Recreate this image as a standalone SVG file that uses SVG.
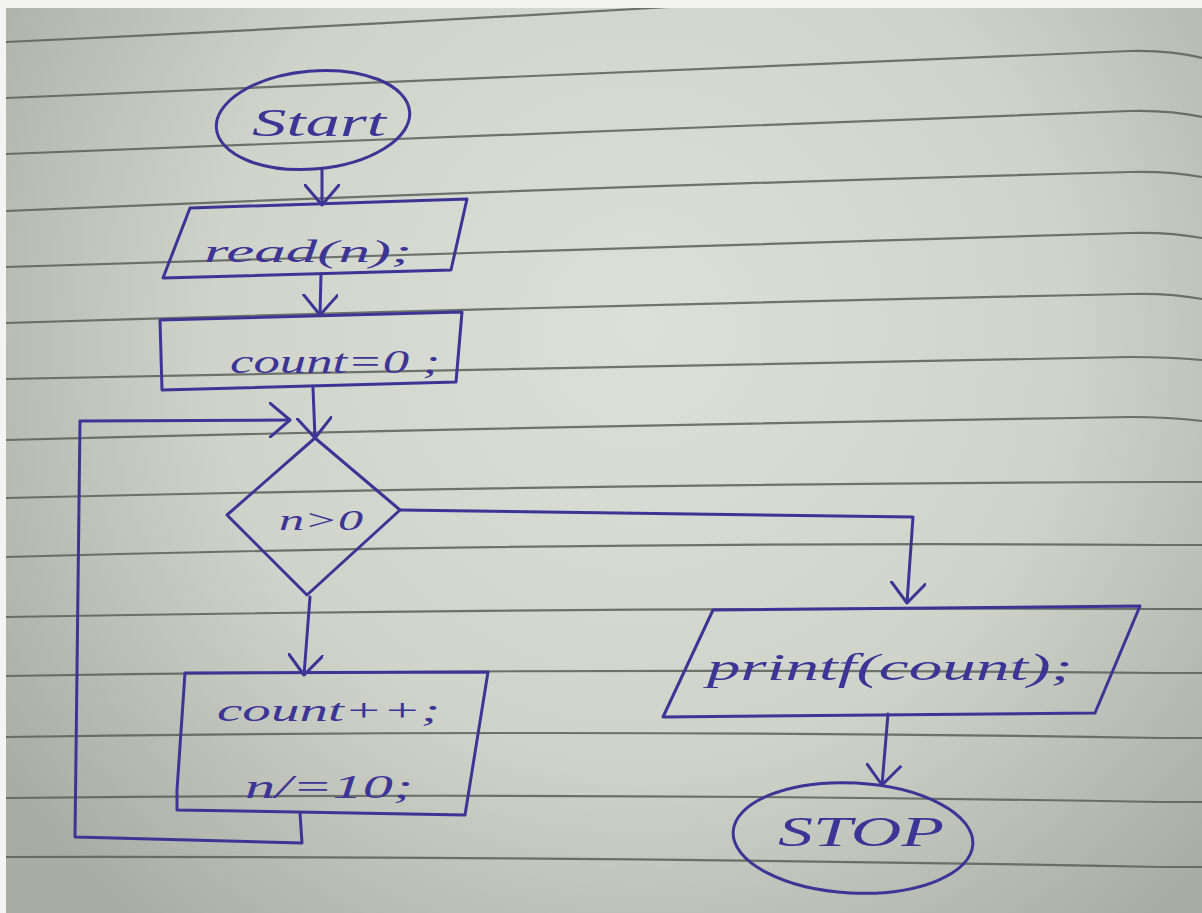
<svg xmlns="http://www.w3.org/2000/svg" width="1202" height="913" viewBox="0 0 1202 913">
  <defs>
    <radialGradient id="paperShade" cx="640" cy="330" r="780" gradientUnits="userSpaceOnUse">
      <stop offset="0" stop-color="#dde0d8"/>
      <stop offset="0.55" stop-color="#d0d3ca"/>
      <stop offset="1" stop-color="#a8aca4"/>
    </radialGradient>
    <clipPath id="pageClip">
      <rect x="6" y="8" width="1196" height="905"/>
    </clipPath>
    <marker id="arrowOpen" viewBox="0 0 22 36" refX="21" refY="18" markerWidth="22" markerHeight="36" markerUnits="userSpaceOnUse" orient="auto">
      <path d="M1,1 L21,18 L1,35" fill="none" stroke="#3d3596" stroke-width="3" stroke-linecap="round" stroke-linejoin="round"/>
    </marker>
    <style>
      .rule { fill: none; stroke: #5a6058; stroke-width: 2.2; stroke-opacity: 0.85; }
      .ink { fill: none; stroke: #3d3596; stroke-width: 3; stroke-linecap: round; stroke-linejoin: round; }
      .flow { fill: none; stroke: #3d3596; stroke-width: 3; stroke-linecap: round; stroke-linejoin: round; marker-end: url(#arrowOpen); }
      .label { fill: #3d3596; font-family: "Liberation Serif", "DejaVu Serif", serif; font-style: italic; }
    </style>
  </defs>

  <!-- notebook page -->
  <g id="page">
    <rect x="0" y="0" width="1202" height="913" fill="#f4f5f2"/>
    <rect x="6" y="8" width="1196" height="905" fill="url(#paperShade)"/>
    <g clip-path="url(#pageClip)">
      <path class="rule" d="M6,42 Q583,15.5 1160,-25"/>
      <path class="rule" d="M6,98 Q583,71.5 1130,51 Q1170,50 1202,58"/>
      <path class="rule" d="M6,154 Q583,129.5 1130,111 Q1170,110 1202,117"/>
      <path class="rule" d="M6,211 Q583,186.5 1130,172 Q1170,171 1202,177"/>
      <path class="rule" d="M6,267 Q583,248 1130,233 Q1170,232 1202,238"/>
      <path class="rule" d="M6,323 Q583,305.5 1130,294 Q1170,293 1202,299"/>
      <path class="rule" d="M6,379 Q583,366 1130,357 Q1170,357 1202,360"/>
      <path class="rule" d="M6,440 Q583,425.5 1130,417 Q1170,417 1202,421"/>
      <path class="rule" d="M6,498 Q583,484 1160,482 L1202,482"/>
      <path class="rule" d="M6,557 Q583,541 1160,545 L1202,545"/>
      <path class="rule" d="M6,617 Q583,607 1160,609 L1202,609"/>
      <path class="rule" d="M6,676 Q583,667.5 1160,673 L1202,673"/>
      <path class="rule" d="M6,737 Q583,728.5 1160,738 L1202,738"/>
      <path class="rule" d="M6,798 Q583,792 1160,802 L1202,802"/>
      <path class="rule" d="M6,857 Q583,856 1160,867 L1202,867"/>
    </g>
  </g>

  <!-- connectors -->
  <g id="connectors">
    <path class="flow" d="M322,170 L322,205"/>
    <path class="flow" d="M321,274 L320,315"/>
    <path class="flow" d="M313,388 L315,438"/>
    <path class="flow" d="M310,597 L304,675"/>
    <path class="flow" d="M400,510 L913,517 L907,603"/>
    <path class="flow" d="M888,714 L882,785"/>
    <path class="flow" d="M300,813 L302,843 L75,837 L80,421 L290,420"/>
  </g>

  <g id="start">
    <ellipse class="ink" cx="313" cy="120" rx="97" ry="49" transform="rotate(-5 313 120)"/>
    <text class="label" x="252" y="136" font-size="40" textLength="134" lengthAdjust="spacingAndGlyphs">Start</text>
  </g>

  <g id="read">
    <polygon class="ink" points="190,208 467,199 451,270 163,278"/>
    <text class="label" x="204" y="262" font-size="32" textLength="208" lengthAdjust="spacingAndGlyphs">read(n);</text>
  </g>

  <g id="init">
    <polygon class="ink" points="160,320 462,312 456,382 162,390"/>
    <text class="label" x="230" y="373" font-size="34" textLength="210" lengthAdjust="spacingAndGlyphs">count=0 ;</text>
  </g>

  <g id="check">
    <polygon class="ink" points="315,438 400,510 307,595 227,515"/>
    <text class="label" x="279" y="530" font-size="30" textLength="84" lengthAdjust="spacingAndGlyphs">n&gt;0</text>
  </g>

  <g id="body">
    <path class="ink" d="M185,673 L488,672 L465,815 L177,810 L177,790 Z"/>
    <text class="label" x="217" y="721" font-size="32" textLength="223" lengthAdjust="spacingAndGlyphs">count++;</text>
    <text class="label" x="245" y="798" font-size="34" textLength="168" lengthAdjust="spacingAndGlyphs">n/=10;</text>
  </g>

  <g id="output">
    <polygon class="ink" points="713,610 1140,606 1095,713 663,717"/>
    <text class="label" x="707" y="680" font-size="38" textLength="366" lengthAdjust="spacingAndGlyphs">printf(count);</text>
  </g>

  <g id="stop">
    <ellipse class="ink" cx="853" cy="838" rx="120" ry="55" transform="rotate(3 853 838)"/>
    <text class="label" x="778" y="846" font-size="42" textLength="166" lengthAdjust="spacingAndGlyphs">STOP</text>
  </g>
</svg>
